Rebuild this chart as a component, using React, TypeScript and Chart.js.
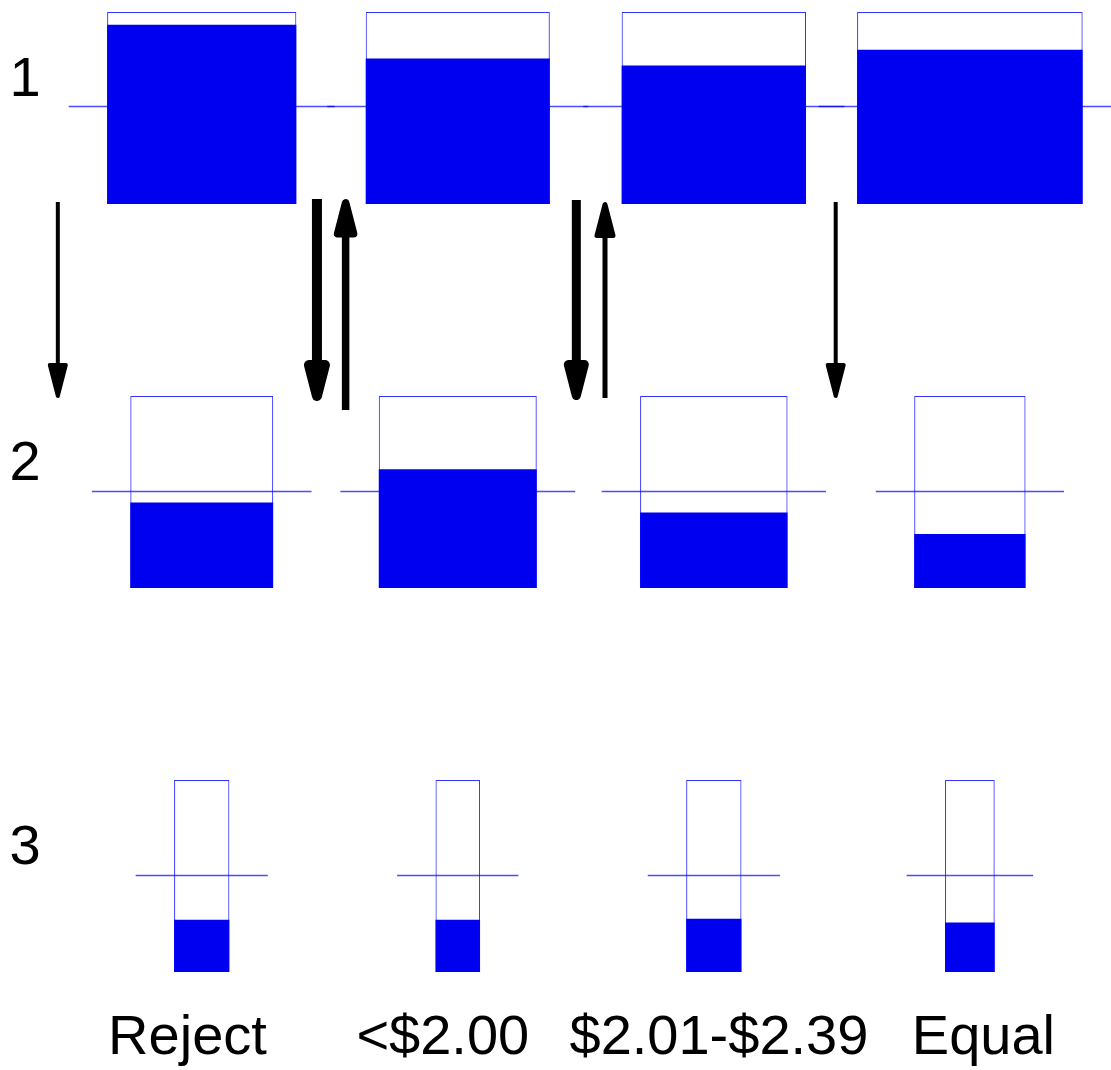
import React, { useEffect, useRef } from "react";
import { Chart, registerables } from "chart.js";

Chart.register(...registerables);

// ---------- data ----------
const categories = ["Reject", "<$2.00", "$2.01-$2.39", "Equal"];
const rowLabels = ["1", "2", "3"];

// fill level of each box (share of the box height)
const row1Share = [0.934, 0.758, 0.721, 0.804];
const row2Share = [0.445, 0.619, 0.393, 0.281];
const row3Share = [0.272, 0.272, 0.277, 0.258];

// relative size of each box (share of the category width)
const row1Size = [0.739, 0.719, 0.72, 0.881];
const row2Size = [0.558, 0.617, 0.576, 0.435];
const row3Size = [0.216, 0.174, 0.216, 0.194];

// reference level drawn across each box
const referenceLevel = 0.5;

// transitions between row 1 and row 2
const flowDirection = ["down", "down", "up", "down", "up", "down"];
const flowWeight = [4, 10, 7.5, 9, 5, 4];

// ---------- layout (not data) ----------
const ROW_BASE = [4, 2, 0];
const ARROW_X = [-0.562, 0.45, 0.562, 1.463, 1.575, 2.476];
const ARROW_Y = [
  [4.01, 2.99],
  [4.026, 2.974],
  [4.026, 2.927],
  [4.021, 2.979],
  [4.01, 2.99],
  [4.01, 2.99],
];
const LABEL_X = [-0.0556, 0.9415, 2.02, 3.053];
const ROW_LABEL_X = -0.69;
const MID_EXT = 0.15;
const BLUE = "#0000f0";
const LINE_BLUE = "rgba(0,0,255,0.7)";
const BOX_BLUE = "rgba(0,0,255,0.8)";
const FONT = '56px "Liberation Sans", Arial, Helvetica, sans-serif';

const rows = [
  { share: row1Share, size: row1Size },
  { share: row2Share, size: row2Size },
  { share: row3Share, size: row3Size },
];

function drawArrow(ctx: CanvasRenderingContext2D, px: number, yTail: number, yTip: number, w: number) {
  const dir = Math.sign(yTip - yTail);
  const L = 31;
  const B = 16;
  const tipV = yTip - (dir * w) / 2;
  const baseY = tipV - dir * L;
  ctx.lineWidth = w;
  ctx.lineCap = "butt";
  ctx.beginPath();
  ctx.moveTo(px, yTail);
  ctx.lineTo(px, baseY);
  ctx.stroke();
  ctx.lineJoin = "round";
  ctx.beginPath();
  ctx.moveTo(px - B / 2, baseY);
  ctx.lineTo(px + B / 2, baseY);
  ctx.lineTo(px, tipV);
  ctx.closePath();
  ctx.fill();
  ctx.stroke();
}

const overlayPlugin = {
  id: "overlay",
  beforeDatasetsDraw(chart: any) {
    const { ctx } = chart;
    const x = chart.scales.x;
    const y = chart.scales.y;
    const cw = x.getPixelForValue(1) - x.getPixelForValue(0);
    ctx.save();
    ctx.strokeStyle = LINE_BLUE;
    ctx.lineWidth = 1.5;
    rows.forEach((row, r) => {
      const ym = Math.floor(y.getPixelForValue(ROW_BASE[r] + referenceLevel)) - 0.5;
      row.size.forEach((s, c) => {
        const cx = x.getPixelForValue(c);
        const half = (s / 2 + MID_EXT) * cw;
        ctx.beginPath();
        ctx.moveTo(cx - half, ym);
        ctx.lineTo(cx + half, ym);
        ctx.stroke();
      });
    });
    ctx.restore();
  },
  afterDatasetsDraw(chart: any) {
    const { ctx } = chart;
    const x = chart.scales.x;
    const y = chart.scales.y;
    ctx.save();
    ctx.fillStyle = "#000";
    ctx.strokeStyle = "#000";
    flowDirection.forEach((d, i) => {
      const px = x.getPixelForValue(ARROW_X[i]);
      const top = y.getPixelForValue(ARROW_Y[i][0]);
      const bottom = y.getPixelForValue(ARROW_Y[i][1]);
      if (d === "down") drawArrow(ctx, px, top, bottom, flowWeight[i]);
      else drawArrow(ctx, px, bottom, top, flowWeight[i]);
    });
    ctx.font = FONT;
    ctx.textAlign = "center";
    ctx.textBaseline = "alphabetic";
    rowLabels.forEach((lab, r) => {
      const ym = y.getPixelForValue(ROW_BASE[r] + referenceLevel);
      ctx.fillText(lab, x.getPixelForValue(ROW_LABEL_X), ym - 12);
    });
    const yb = y.getPixelForValue(0) + 81.5;
    categories.forEach((lab, c) => {
      ctx.fillText(lab, x.getPixelForValue(LABEL_X[c]), yb);
    });
    ctx.restore();
  },
};

export default function App() {
  const ref = useRef<HTMLCanvasElement | null>(null);
  useEffect(() => {
    if (!ref.current) return;
    const datasets: any[] = [];
    rows.forEach((row, r) => {
      const base = ROW_BASE[r];
      row.share.forEach((v, c) => {
        datasets.push({
          label: `fill-${r}-${c}`,
          data: categories.map((_, j) => (j === c ? [base, base + v] : null)),
          backgroundColor: BLUE,
          borderWidth: 0,
          barPercentage: row.size[c],
          categoryPercentage: 1,
          grouped: false,
          order: 2,
        });
        datasets.push({
          label: `box-${r}-${c}`,
          data: categories.map((_, j) => (j === c ? [base, base + 1] : null)),
          backgroundColor: "rgba(0,0,0,0)",
          borderColor: BOX_BLUE,
          borderWidth: 1,
          borderSkipped: false,
          barPercentage: row.size[c],
          categoryPercentage: 1,
          grouped: false,
          order: 1,
        });
      });
    });
    const chart = new Chart(ref.current, {
      type: "bar",
      data: { labels: categories, datasets },
      options: {
        responsive: false,
        animation: false,
        devicePixelRatio: 1,
        layout: { padding: { left: 73.7, right: 13.1, top: 12, bottom: 98 } },
        scales: {
          x: { display: false, offset: true, grid: { display: false } },
          y: { display: false, min: 0, max: 5 },
        },
        plugins: { legend: { display: false }, tooltip: { enabled: false } },
      },
      plugins: [overlayPlugin],
    });
    return () => chart.destroy();
  }, []);
  return (
    <div style={{ position: "absolute", left: 0, top: 0, width: 1111, height: 1070, background: "#fff" }}>
      <canvas ref={ref} width={1111} height={1070} />
    </div>
  );
}
